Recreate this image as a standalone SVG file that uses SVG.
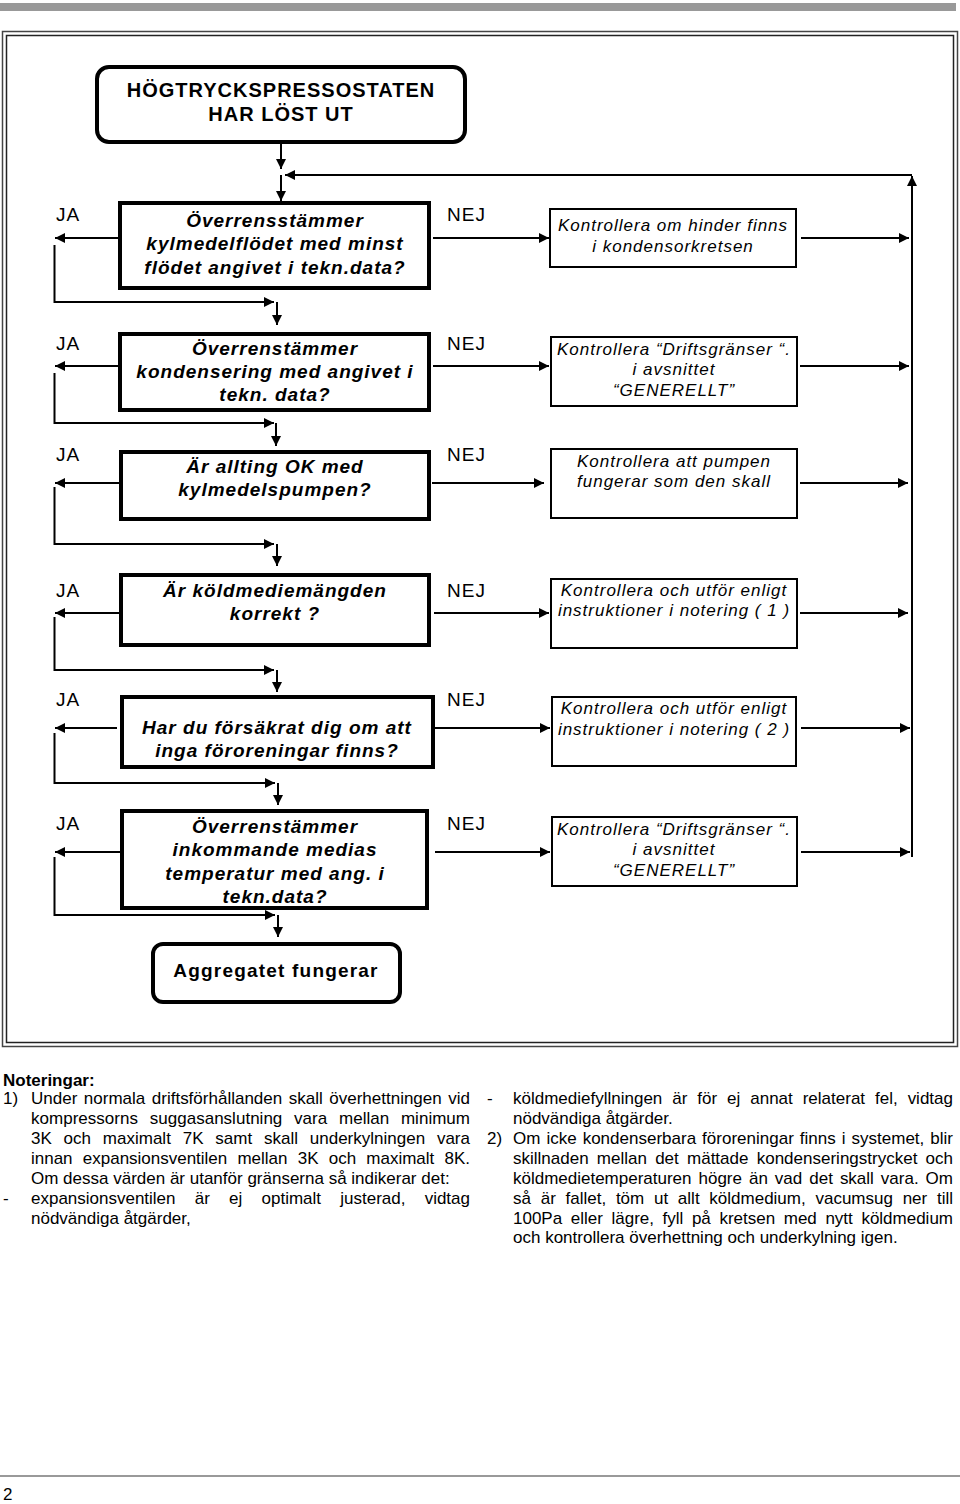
<svg xmlns="http://www.w3.org/2000/svg" width="960" height="1504" viewBox="0 0 960 1504">
<style>
.t{font-family:"Liberation Sans",Arial,sans-serif;fill:#000}
.title{font-size:20px;font-weight:bold;letter-spacing:1px;text-anchor:middle}
.q{font-size:19px;font-weight:bold;font-style:italic;letter-spacing:1px;text-anchor:middle}
.a{font-size:17px;font-style:italic;letter-spacing:1px;text-anchor:middle}
.lbl{font-size:19px;letter-spacing:1px}
.end{font-size:19px;font-weight:bold;letter-spacing:1.2px;text-anchor:middle}
.n{font-size:17px}
.nb{font-size:17px;font-weight:bold}
.qbox{fill:#fff;stroke:#000;stroke-width:4}
.abox{fill:#fff;stroke:#000;stroke-width:2}
.rbox{fill:#fff;stroke:#000;stroke-width:4}
.c{fill:none;stroke:#000;stroke-width:2}
</style>
<defs>
<marker id="ah" viewBox="0 0 10 10" refX="10" refY="5" markerWidth="12" markerHeight="10" markerUnits="userSpaceOnUse" orient="auto">
<path d="M0,0 L10,5 L0,10 z" fill="#000"/>
</marker>
</defs>
<rect x="0" y="3" width="956" height="8" fill="#999"/>
<rect x="2.5" y="31.5" width="955" height="1015" fill="none" stroke="#444" stroke-width="1.5"/>
<rect x="6.5" y="35.5" width="947" height="1007" fill="none" stroke="#222" stroke-width="1.5"/>

<g id="connectors">
<path class="c" d="M281,142 V169" marker-end="url(#ah)"/>
<path class="c" d="M912,857 V176" marker-end="url(#ah)"/>
<path class="c" d="M912,175 H285" marker-end="url(#ah)"/>
<path class="c" d="M281,175 V201" marker-end="url(#ah)"/>
<path class="c" d="M120,238 H55" marker-end="url(#ah)"/>
<path class="c" d="M54.5,245 V302 H274" marker-end="url(#ah)"/>
<path class="c" d="M277,302 V325" marker-end="url(#ah)"/>
<path class="c" d="M433,238 H549" marker-end="url(#ah)"/>
<path class="c" d="M801,238 H909" marker-end="url(#ah)"/>
<path class="c" d="M120,366 H55" marker-end="url(#ah)"/>
<path class="c" d="M54.5,373 V423 H274" marker-end="url(#ah)"/>
<path class="c" d="M276,423 V446" marker-end="url(#ah)"/>
<path class="c" d="M433,366 H549" marker-end="url(#ah)"/>
<path class="c" d="M800,366 H909" marker-end="url(#ah)"/>
<path class="c" d="M121,483 H55" marker-end="url(#ah)"/>
<path class="c" d="M54.5,487 V544 H274" marker-end="url(#ah)"/>
<path class="c" d="M277,544 V566" marker-end="url(#ah)"/>
<path class="c" d="M432,483 H544" marker-end="url(#ah)"/>
<path class="c" d="M800,483 H908" marker-end="url(#ah)"/>
<path class="c" d="M121,613 H55" marker-end="url(#ah)"/>
<path class="c" d="M54.5,617 V670 H274" marker-end="url(#ah)"/>
<path class="c" d="M277,670 V692" marker-end="url(#ah)"/>
<path class="c" d="M434,613 H549" marker-end="url(#ah)"/>
<path class="c" d="M800,613 H908" marker-end="url(#ah)"/>
<path class="c" d="M117,728 H55" marker-end="url(#ah)"/>
<path class="c" d="M54.5,733 V783 H275" marker-end="url(#ah)"/>
<path class="c" d="M278,783 V805" marker-end="url(#ah)"/>
<path class="c" d="M435,728 H550" marker-end="url(#ah)"/>
<path class="c" d="M801,728 H910" marker-end="url(#ah)"/>
<path class="c" d="M120,852 H55" marker-end="url(#ah)"/>
<path class="c" d="M54.5,857 V915 H275" marker-end="url(#ah)"/>
<path class="c" d="M278,915 V937" marker-end="url(#ah)"/>
<path class="c" d="M435,852 H550" marker-end="url(#ah)"/>
<path class="c" d="M801,852 H910" marker-end="url(#ah)"/>
</g>

<g id="start">
<rect class="rbox" x="97" y="67" width="368" height="75" rx="12"/>
<text class="t title" x="281" y="97">HÖGTRYCKSPRESSOSTATEN</text>
<text class="t title" x="281" y="121">HAR LÖST UT</text>
</g>

<g id="q1">
<rect class="qbox" x="120" y="203" width="309" height="85"/>
<text class="t q" x="275" y="227">Överrensstämmer</text>
<text class="t q" x="275" y="250">kylmedelflödet med minst</text>
<text class="t q" x="275" y="274">flödet angivet i tekn.data?</text>
</g>
<g id="q2">
<rect class="qbox" x="120" y="334" width="309" height="76"/>
<text class="t q" x="275" y="355">Överrenstämmer</text>
<text class="t q" x="275" y="378">kondensering med angivet i</text>
<text class="t q" x="275" y="401">tekn. data?</text>
</g>
<g id="q3">
<rect class="qbox" x="121" y="452" width="308" height="67"/>
<text class="t q" x="275" y="473">Är allting OK med</text>
<text class="t q" x="275" y="496">kylmedelspumpen?</text>
</g>
<g id="q4">
<rect class="qbox" x="121" y="575" width="308" height="70"/>
<text class="t q" x="275" y="597">Är köldmediemängden</text>
<text class="t q" x="275" y="620">korrekt ?</text>
</g>
<g id="q5">
<rect class="qbox" x="122" y="697" width="311" height="70"/>
<text class="t q" x="277" y="734">Har du försäkrat dig om att</text>
<text class="t q" x="277" y="757">inga föroreningar finns?</text>
</g>
<g id="q6">
<rect class="qbox" x="122" y="811" width="305" height="97"/>
<text class="t q" x="275" y="833">Överrenstämmer</text>
<text class="t q" x="275" y="856">inkommande medias</text>
<text class="t q" x="275" y="880">temperatur med ang. i</text>
<text class="t q" x="275" y="903">tekn.data?</text>
</g>

<g id="labels">
<text class="t lbl" x="56" y="221">JA</text>
<text class="t lbl" x="447" y="221">NEJ</text>
<text class="t lbl" x="56" y="350">JA</text>
<text class="t lbl" x="447" y="350">NEJ</text>
<text class="t lbl" x="56" y="461">JA</text>
<text class="t lbl" x="447" y="461">NEJ</text>
<text class="t lbl" x="56" y="597">JA</text>
<text class="t lbl" x="447" y="597">NEJ</text>
<text class="t lbl" x="56" y="706">JA</text>
<text class="t lbl" x="447" y="706">NEJ</text>
<text class="t lbl" x="56" y="830">JA</text>
<text class="t lbl" x="447" y="830">NEJ</text>
</g>

<g id="a1">
<rect class="abox" x="550" y="209" width="246" height="58"/>
<text class="t a" x="673" y="231">Kontrollera om hinder finns</text>
<text class="t a" x="673" y="252">i kondensorkretsen</text>
</g>
<g id="a2">
<rect class="abox" x="551" y="337" width="246" height="69"/>
<text class="t a" x="674" y="355">Kontrollera “Driftsgränser “.</text>
<text class="t a" x="674" y="375">i avsnittet</text>
<text class="t a" x="674" y="396">“GENERELLT”</text>
</g>
<g id="a3">
<rect class="abox" x="551" y="449" width="246" height="69"/>
<text class="t a" x="674" y="467">Kontrollera att pumpen</text>
<text class="t a" x="674" y="487">fungerar som den skall</text>
</g>
<g id="a4">
<rect class="abox" x="551" y="579" width="246" height="69"/>
<text class="t a" x="674" y="596">Kontrollera och utför enligt</text>
<text class="t a" x="674" y="616">instruktioner i notering ( 1 )</text>
</g>
<g id="a5">
<rect class="abox" x="552" y="697" width="244" height="69"/>
<text class="t a" x="674" y="714">Kontrollera och utför enligt</text>
<text class="t a" x="674" y="735">instruktioner i notering ( 2 )</text>
</g>
<g id="a6">
<rect class="abox" x="552" y="817" width="245" height="69"/>
<text class="t a" x="674" y="835">Kontrollera “Driftsgränser “.</text>
<text class="t a" x="674" y="855">i avsnittet</text>
<text class="t a" x="674" y="876">“GENERELLT”</text>
</g>

<g id="end">
<rect class="rbox" x="153" y="944" width="247" height="58" rx="10"/>
<text class="t end" x="276" y="977">Aggregatet fungerar</text>
</g>

<g id="notes">
<text class="t nb" x="3" y="1086">Noteringar:</text>
<text class="t n" x="3" y="1104">1)</text>
<text class="t n" x="31" y="1104" word-spacing="1.8" textLength="439" lengthAdjust="spacing">Under normala driftsförhållanden skall överhettningen vid</text>
<text class="t n" x="31" y="1124" word-spacing="7" textLength="439" lengthAdjust="spacing">kompressorns suggasanslutning vara mellan minimum</text>
<text class="t n" x="31" y="1144" word-spacing="7.1" textLength="439" lengthAdjust="spacing">3K och maximalt 7K samt skall underkylningen vara</text>
<text class="t n" x="31" y="1164" word-spacing="5.5" textLength="439" lengthAdjust="spacing">innan expansionsventilen mellan 3K och maximalt  8K.</text>
<text class="t n" x="31" y="1184">Om dessa värden är utanför gränserna så indikerar det:</text>
<text class="t n" x="3" y="1204">-</text>
<text class="t n" x="31" y="1204" word-spacing="14.5" textLength="439" lengthAdjust="spacing">expansionsventilen är ej optimalt justerad, vidtag</text>
<text class="t n" x="31" y="1224">nödvändiga åtgärder,</text>

<text class="t n" x="487" y="1104">-</text>
<text class="t n" x="513" y="1104" word-spacing="5.2" textLength="440" lengthAdjust="spacing">köldmediefyllningen är för ej annat relaterat fel, vidtag</text>
<text class="t n" x="513" y="1124">nödvändiga åtgärder.</text>
<text class="t n" x="487" y="1144">2)</text>
<text class="t n" x="513" y="1144" word-spacing="1.3" textLength="440" lengthAdjust="spacing">Om icke kondenserbara föroreningar finns i systemet, blir</text>
<text class="t n" x="513" y="1164" word-spacing="3.5" textLength="440" lengthAdjust="spacing">skillnaden mellan det mättade kondenseringstrycket och</text>
<text class="t n" x="513" y="1184" word-spacing="2.3" textLength="440" lengthAdjust="spacing">köldmedietemperaturen högre än vad det skall vara. Om</text>
<text class="t n" x="513" y="1204" word-spacing="5" textLength="440" lengthAdjust="spacing">så är fallet, töm ut allt köldmedium, vacumsug ner till</text>
<text class="t n" x="513" y="1224" word-spacing="3.9" textLength="440" lengthAdjust="spacing">100Pa eller lägre, fyll på kretsen med nytt köldmedium</text>
<text class="t n" x="513" y="1243">och kontrollera överhettning och underkylning igen.</text>
</g>

<rect x="0" y="1475" width="960" height="2" fill="#999"/>
<text class="t n" x="3" y="1500">2</text>
</svg>
